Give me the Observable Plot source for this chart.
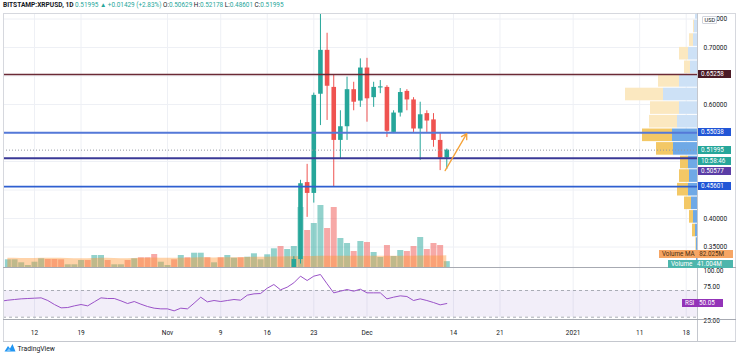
<!DOCTYPE html>
<html>
<head>
<meta charset="utf-8">
<script src="https://cdn.jsdelivr.net/npm/d3@7"></script>
<script src="https://cdn.jsdelivr.net/npm/@observablehq/plot@0.6"></script>
<style>
html,body{margin:0;padding:0;background:#fff;}
#wrap{position:relative;width:736px;height:356px;overflow:hidden;font-family:Roboto,"Noto Sans",sans-serif;color:#131722;}
#wrap svg{position:absolute;left:0;top:0;}
.hdr{position:absolute;left:3px;top:1px;font-size:6.4px;line-height:9px;white-space:nowrap;}
.hdr b{font-size:6.6px;}
.hdr .g{color:#26a69a;}
.box{position:absolute;font-size:6.3px;white-space:nowrap;box-sizing:border-box;padding-left:3px;}
.ln{position:absolute;}
.logo{position:absolute;left:4px;top:343px;font-size:6.8px;line-height:10px;white-space:nowrap;color:#131722;}
</style>
</head>
<body>
<div id="wrap"></div>
<script>
// ---------------- DATA ----------------
const candleDates = ["2020-11-20","2020-11-21","2020-11-22","2020-11-23","2020-11-24","2020-11-25","2020-11-26","2020-11-27","2020-11-28","2020-11-29","2020-11-30","2020-12-01","2020-12-02","2020-12-03","2020-12-04","2020-12-05","2020-12-06","2020-12-07","2020-12-08","2020-12-09","2020-12-10","2020-12-11","2020-12-12","2020-12-13"];
const opens  = [0.300,0.328,0.463,0.444,0.618,0.695,0.630,0.537,0.561,0.626,0.606,0.664,0.612,0.629,0.630,0.551,0.585,0.623,0.608,0.557,0.584,0.573,0.537,0.50629];
const highs  = [0.333,0.467,0.495,0.620,0.780,0.725,0.651,0.589,0.648,0.639,0.680,0.681,0.639,0.642,0.633,0.589,0.628,0.626,0.612,0.604,0.589,0.584,0.549,0.52178];
const lows   = [0.295,0.320,0.402,0.427,0.563,0.572,0.455,0.505,0.537,0.589,0.595,0.569,0.595,0.619,0.542,0.549,0.578,0.589,0.551,0.502,0.551,0.525,0.484,0.48601];
const closes = [0.328,0.461,0.444,0.616,0.695,0.632,0.537,0.561,0.626,0.604,0.664,0.610,0.630,0.631,0.553,0.585,0.621,0.608,0.557,0.582,0.571,0.537,0.506,0.51995];
const lastChange = 0.01429, lastChangePct = 2.83;

const volumeStart = "2020-10-08";
const volumes = [54,54,33,14,37,61,56,56,54,19,19,49,49,84,84,49,19,19,49,61,68,68,91,37,14,54,84,68,100,100,68,33,68,84,65,68,72,
  96,54,89,131,147,126,147,
  420,259,308,434,273,420,203,168,112,182,175,105,70,154,77,119,112,147,210,126,168,154,41];
const volumeUp = [1,1,1,1,1,1,0,0,0,1,1,1,0,1,1,0,1,1,0,1,0,0,0,1,1,0,1,0,1,1,0,1,0,1,1,0,1,
  1,1,1,1,0,1,1,
  1,0,1,1,0,0,1,1,0,1,0,1,1,0,1,1,0,0,1,0,0,0,1];
const volumeMA = [64,64,63,63,63,64,64,64,64,63,62,62,62,63,64,64,63,62,62,63,64,65,66,65,
  64,64,65,65,67,68,68,67,68,69,69,69,70,
  71,71,72,73,74,75,76,
  77,77,77,78,78,78,78,78,78,78,78,78,78,78,78,79,79,79,80,80,81,81,82];
const lastVolume = 41.004, lastVolumeMA = 82.025;

const rsiStart = "2020-10-07";
const rsiValues = [54,55.5,56.5,57.5,58,58.5,59,55,49,44,44.5,47,49,47,53,59,58,58,54.5,50.5,53.5,49.5,46,43.5,42.5,42.5,39.5,43.5,42.5,51,60,
  53,55,53.5,55,56.5,55.5,63,65,65.5,73.5,79,71,75,81.5,91.5,85,91.5,94,80,66.5,69,71.5,69,72,66.5,66.5,66.5,57.5,60,62,61,55,57.5,55,52,48.5,50.5];
const lastRSI = 50.05;

// visible-range volume profile (price bins, up / down volume)
const vpBottom = [0.3193,0.3432,0.3670,0.3909,0.4147,0.4386,0.4625,0.4863,0.5102,0.5340,0.5579,0.5818,0.6056,0.6295,0.6533,0.6772,0.7011,0.7249,0.7488];
const vpBin = 0.02386;
const vpUp   = [10,10,20,40,60,90,80,90,240,250,200,180,340,180,70,90,40,30,20];
const vpDown = [0,5,30,40,70,110,100,80,170,300,280,290,380,210,60,90,40,10,0];
const vpValueAreaHigh = 0.5579;

// horizontal levels drawn on chart
const levelPrices = [0.65258, 0.55038, 0.50577, 0.45601];
const arrowStart = ["2020-12-12T18:00:00Z", 0.484];
const arrowEnd   = ["2020-12-16T00:00:00Z", 0.549];
const countdown = "10:58:46";

// axis ticks
const priceTicks = [0.35, 0.40, 0.60, 0.70, 0.75];
const gridPrices = [0.35,0.40,0.45,0.50,0.55,0.60,0.65,0.70,0.75];
const rsiTicks = [100, 75, 25];
const tickDates = ["2020-10-12","2020-10-19","2020-11-01","2020-11-09","2020-11-16","2020-11-23","2020-12-01","2020-12-14","2020-12-21","2021-01-01","2021-01-11","2021-01-18"];
const tickLabels = ["12","19","Nov","9","16","23","Dec","14","21","2021","11","18"];

// ---------------- STYLE ----------------
const UP = "#26a69a", DOWN = "#ef5350";
const levelColors = ["#6b2a36", "#5479d8", "#3a3996", "#2f5fd0"];
const levelWidths = [1.5, 2, 2, 1.6];
const levelBoxColors = ["#4b1a25", "#2155d6", "#5b3da6", "#2155d6"];

// ---------------- BUILD ----------------
const wrap = document.getElementById("wrap");
const parse = d3.utcParse("%Y-%m-%d");
const candles = candleDates.map((d, i) => ({date: parse(d), open: opens[i], high: highs[i], low: lows[i], close: closes[i]}));
const volData = volumes.map((v, i) => ({date: d3.utcDay.offset(parse(volumeStart), i), vol: v, up: volumeUp[i] === 1, ma: volumeMA[i]}));
const rsiData = rsiValues.map((v, i) => ({date: d3.utcDay.offset(parse(rsiStart), i), rsi: v}));
const profile = vpBottom.map((b, i) => ({lo: b, hi: b + vpBin, up: vpUp[i], down: vpDown[i]}));
const levels = levelPrices.map((p, i) => ({price: p, color: levelColors[i], w: levelWidths[i]}));
const arrows = [{x1: new Date(arrowStart[0]), y1: arrowStart[1], x2: new Date(arrowEnd[0]), y2: arrowEnd[1]}];
const tDates = tickDates.map(parse);
const labelMap = new Map(tDates.map((d, i) => [+d, tickLabels[i]]));

const W = 736, H = 356;
const X = {type: "utc", domain: [new Date(Date.UTC(2020, 9, 7, 8, 10)), new Date(Date.UTC(2021, 0, 19, 16, 48))], range: [3, 697]};
const PY = {domain: [0.31404, 0.75965], range: [267, 13]};
const M = {marginTop: 13, marginBottom: 89, marginLeft: 3, marginRight: 39};
const st = {background: "transparent", fontFamily: "Roboto, sans-serif", fontSize: "6.5px", color: "#131722", overflow: "visible"};

const gridPlot = Plot.plot({width: W, height: H, ...M, style: st,
  x: {...X, axis: null}, y: {...PY, axis: null},
  marks: [
    Plot.ruleY(gridPrices, {stroke: "#eef0f5"}),
    Plot.ruleX(tDates, {stroke: "#eef0f5"})
  ]});

const volPlot = Plot.plot({width: W, height: H, ...M, style: st,
  x: {...X, axis: null}, y: {domain: [0, 100], range: [267, 267 - 100 / 7], axis: null}, color: {type: "identity"},
  marks: [
    Plot.ruleX(volData, {x: "date", y1: 0, y2: "vol", stroke: d => d.up ? UP : DOWN, strokeOpacity: 0.5, strokeWidth: 6, clip: true}),
    Plot.areaY(volData, {x: "date", y: "ma", fill: "#ff9632", fillOpacity: 0.42, clip: true})
  ]});

const profPlot = Plot.plot({width: W, height: H, ...M, style: st,
  x: {domain: [0, 1000], range: [697, 597], axis: null}, y: {...PY, axis: null}, color: {type: "identity"},
  marks: [
    Plot.rect(profile, {y1: "lo", y2: "hi", x1: 0, x2: "up", fill: d => d.hi <= vpValueAreaHigh + 0.001 ? "#6fa9e6" : "#cde1f6", insetTop: 0.5, insetBottom: 0.5, clip: true}),
    Plot.rect(profile, {y1: "lo", y2: "hi", x1: "up", x2: d => d.up + d.down, fill: d => d.hi <= vpValueAreaHigh + 0.001 ? "#f3c866" : "#fbe8c0", insetTop: 0.5, insetBottom: 0.5, clip: true})
  ]});

const mainPlot = Plot.plot({width: W, height: H, ...M, style: st,
  x: {...X, axis: null}, y: {...PY}, color: {type: "identity"},
  marks: [
    Plot.ruleX(candles, {x: "date", y1: "low", y2: "high", stroke: d => d.close >= d.open ? UP : DOWN, strokeWidth: 1, clip: true}),
    Plot.ruleX(candles, {x: "date", y1: "open", y2: "close", stroke: d => d.close >= d.open ? UP : DOWN, strokeWidth: 4.6, clip: true}),
    Plot.ruleY([closes[closes.length - 1]], {stroke: "#9598a1", strokeDasharray: "1,2"}),
    Plot.ruleY(levels, {y: "price", stroke: "color", strokeWidth: "w"}),
    Plot.arrow(arrows, {x1: "x1", y1: "y1", x2: "x2", y2: "y2", stroke: "#f5a238", strokeWidth: 1.3, headLength: 7, bend: 0}),
    Plot.axisY({ticks: priceTicks, anchor: "right", tickSize: 0, tickPadding: 6, tickFormat: d3.format(".5f"), fontSize: 6.5, label: null})
  ]});

const rsiPlot = Plot.plot({width: W, height: H, marginTop: 268, marginBottom: 37, marginLeft: 3, marginRight: 39, style: st,
  x: {...X}, y: {domain: [0, 100], range: [336.7, 270]},
  marks: [
    Plot.ruleX(tDates, {stroke: "#eef0f5"}),
    Plot.rect([0], {y1: 30, y2: 70, fill: "#7e57c2", fillOpacity: 0.1}),
    Plot.ruleY([30, 70], {stroke: "#a9acb5", strokeDasharray: "3,3"}),
    Plot.line(rsiData, {x: "date", y: "rsi", stroke: "#9a52c8", strokeWidth: 1, clip: true}),
    Plot.axisY({ticks: rsiTicks, anchor: "right", tickSize: 0, tickPadding: 6, tickFormat: ".2f", fontSize: 6.5, label: null}),
    Plot.axisX({ticks: tDates, tickFormat: d => labelMap.get(+d), anchor: "bottom", tickSize: 0, tickPadding: 11, fontSize: 6.5, label: null})
  ]});

[gridPlot, volPlot, profPlot, mainPlot, rsiPlot].forEach(p => wrap.appendChild(p));

// frame lines
function line(l, t, w, h, c) {
  const d = document.createElement("div");
  d.className = "ln";
  d.style.cssText = `left:${l}px;top:${t}px;width:${w}px;height:${h}px;background:${c}`;
  wrap.appendChild(d);
}
line(3, 13, 733, 1, "#d6d8de");
line(3, 13, 1, 329, "#d6d8de");
line(735, 13, 1, 329, "#d6d8de");
line(3, 341, 733, 1, "#c4c7ce");
line(697, 13, 1, 328, "#c4c7ce");
line(3, 267, 733, 1, "#a7aab2");
line(3, 319, 733, 1, "#a7aab2");

// label boxes positioned with the plots' scales
function box(left, width, cy, bg, color, html, h = 8) {
  const d = document.createElement("div");
  d.className = "box";
  d.style.cssText = `left:${left}px;top:${cy - h / 2}px;width:${width}px;height:${h}px;line-height:${h}px;background:${bg};color:${color}`;
  d.innerHTML = html;
  wrap.appendChild(d);
  return cy + h / 2;
}
const ys = mainPlot.scale("y");
const fmt = d3.format(".5f");
box(698, 33, ys.apply(levelPrices[0]), levelBoxColors[0], "#fff", fmt(levelPrices[0]));
box(698, 33, ys.apply(levelPrices[1]), levelBoxColors[1], "#fff", fmt(levelPrices[1]));
const lastClose = closes[closes.length - 1];
let bottom = box(698, 33, ys.apply(lastClose), UP, "#fff", fmt(lastClose));
bottom = box(698, 33, bottom + 3.5 + 4, UP, "#fff", countdown);
box(698, 33, Math.max(ys.apply(levelPrices[2]), bottom + 2 + 4), levelBoxColors[2], "#fff", fmt(levelPrices[2]));
box(698, 33, ys.apply(levelPrices[3]), levelBoxColors[3], "#fff", fmt(levelPrices[3]));

// USD badge
const usd = document.createElement("div");
usd.className = "box";
usd.style.cssText = "left:702px;top:16px;width:15px;height:8px;line-height:7px;background:#fff;border:0.6px solid #d1d4dc;border-radius:1px;padding-left:1.5px;font-size:5.6px;color:#131722";
usd.textContent = "USD";
wrap.appendChild(usd);

// volume labels (pushed apart when they would collide)
const yv = volPlot.scale("y");
let yMA = yv.apply(lastVolumeMA), yVol = yv.apply(lastVolume);
if (yVol - yMA < 9.5) { const mid = (yMA + yVol) / 2; yMA = mid - 4.2; yVol = mid + 5.3; }
box(659, 74, yMA, "#f6a564", "#4a2e12", "Volume MA&nbsp;&nbsp;&nbsp;" + lastVolumeMA.toFixed(3) + "M");
box(668, 65, yVol, "#4db6ac", "#fff", "Volume&nbsp;&nbsp;&nbsp;" + lastVolume.toFixed(3) + "M");

// RSI label
const yr = rsiPlot.scale("y");
box(682, 41, yr.apply(lastRSI), "#9334b8", "#fff", "RSI&nbsp;&nbsp;&nbsp;" + lastRSI.toFixed(2));

// header
const n = closes.length - 1;
const hdr = document.createElement("div");
hdr.className = "hdr";
hdr.innerHTML = `<b>BITSTAMP:XRPUSD, 1D</b> <span class="g">${fmt(closes[n])} ▲ +${fmt(lastChange)} (+${lastChangePct.toFixed(2)}%)</span> O:<span class="g">${fmt(opens[n])}</span> H:<span class="g">${fmt(highs[n])}</span> L:<span class="g">${fmt(lows[n])}</span> C:<span class="g">${fmt(closes[n])}</span>`;
wrap.appendChild(hdr);

// logo
const logo = document.createElement("div");
logo.className = "logo";
logo.innerHTML = `<svg width="12" height="9" viewBox="0 0 12 9" style="position:static;vertical-align:-1px"><path d="M0.5 8.5 L4 3 L6 5.5 L8.5 1 L11.5 8.5 Z" fill="#2196f3"/><path d="M2.5 8.5 L5 5 L7 8.5 Z" fill="#7ec3f7"/></svg> TradingView`;
wrap.appendChild(logo);
</script>
</body>
</html>
